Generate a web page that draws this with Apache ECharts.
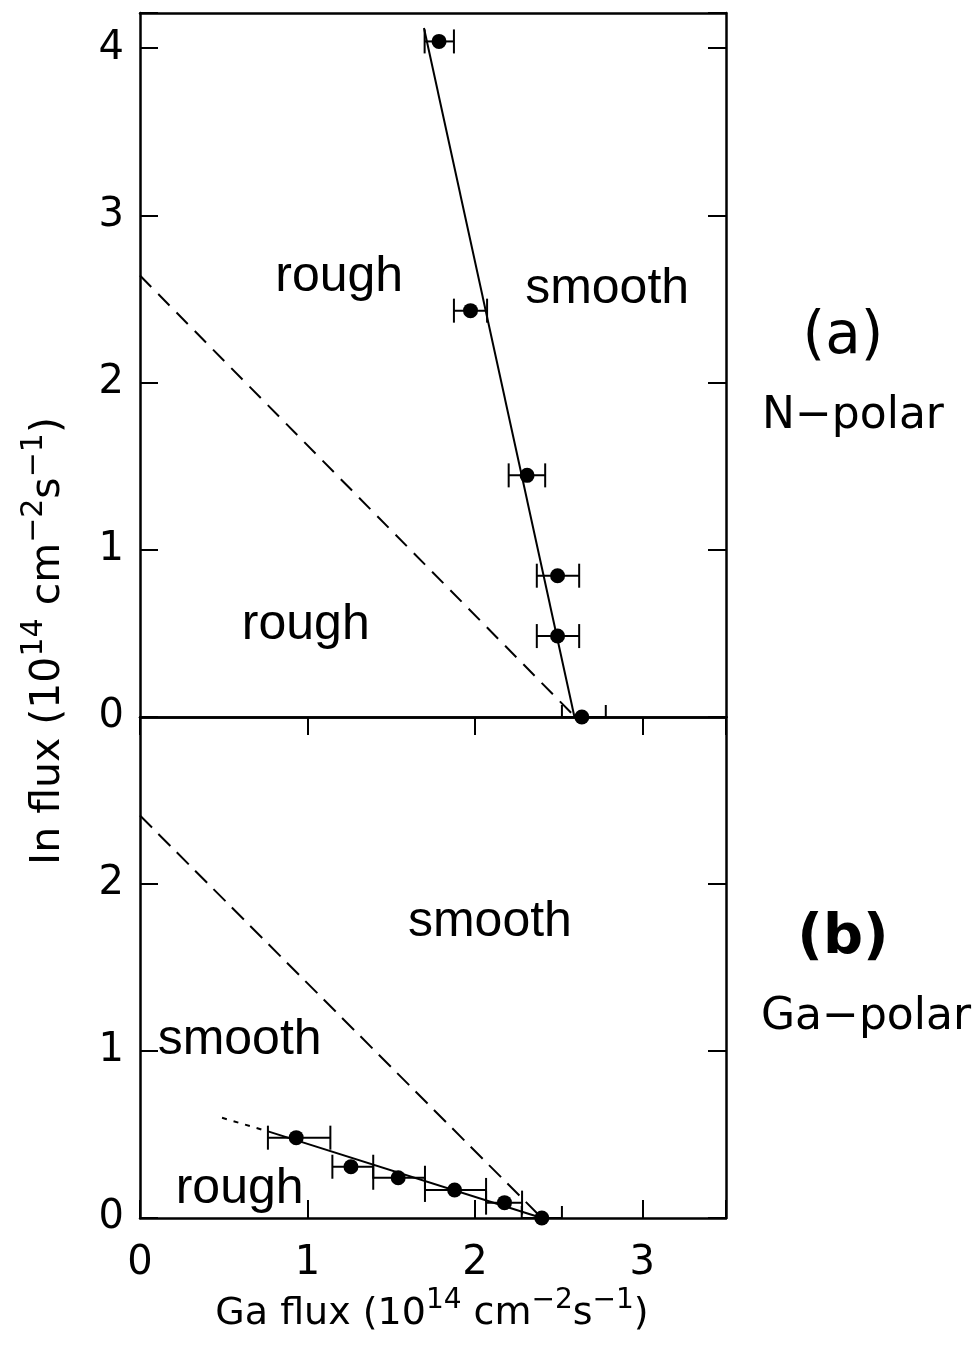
<!DOCTYPE html>
<html>
<head>
<meta charset="utf-8">
<script src="https://cdn.jsdelivr.net/npm/echarts@6/dist/echarts.min.js"></script>
<style>
html,body{margin:0;padding:0;background:#fff;}
#chart{width:979px;height:1357px;}
</style>
</head>
<body>
<div id="chart"></div>
<script>
// ---------- data (panel a: N-polar) ----------
const nPolarX = [1.786, 1.974, 2.312, 2.494, 2.494, 2.639];
const nPolarY = [4.04, 2.43, 1.445, 0.845, 0.484, 0.0];
const nPolarXErrLow = [1.70, 1.875, 2.202, 2.37, 2.37, 2.52];
const nPolarXErrHigh = [1.875, 2.073, 2.42, 2.623, 2.623, 2.782];
const nPolarFit = [[1.696, 4.12], [2.595, 0.0]];
const nPolarDashed = [[0, 2.64], [2.6, 0.0]];
const nPolarRegionText = ['rough', 'smooth', 'rough'];
const nPolarRegionX = [1.19, 2.79, 0.99];
const nPolarRegionY = [2.63, 2.56, 0.55];

// ---------- data (panel b: Ga-polar) ----------
const gaPolarX = [0.933, 1.26, 1.542, 1.879, 2.177, 2.40];
const gaPolarY = [0.481, 0.307, 0.241, 0.168, 0.092, 0.0];
const gaPolarXErrLow = [0.764, 1.149, 1.393, 1.702, 2.067, 2.28];
const gaPolarXErrHigh = [1.137, 1.393, 1.702, 2.067, 2.282, 2.52];
const gaPolarFit = [[0.76, 0.52], [2.40, 0.0]];
const gaPolarFitExt = [[0.49, 0.60], [0.76, 0.52]];
const gaPolarDashed = [[0, 2.41], [2.4, 0.0]];
const gaPolarRegionText = ['smooth', 'smooth', 'rough'];
const gaPolarRegionX = [2.09, 0.595, 0.595];
const gaPolarRegionY = [1.77, 1.065, 0.17];

// ---------- axes ----------
const xMin = 0, xMax = 3.5;
const yTopMax = 4.21, yBotMax = 3.0;
const panelLabels = ['(a)', 'N\u2212polar', '(b)', 'Ga\u2212polar'];
const xTitle = ['Ga flux (10', '14', ' cm', '\u22122', 's', '\u22121', ')'];
const yTitle = ['In flux (10', '14', ' cm', '\u22122', 's', '\u22121', ')'];

const tickFont = 'DejaVu Sans';
const black = '#000';

function richTitle(parts) {
  let s = '';
  parts.forEach((p, i) => { s += (i % 2 === 0 ? '{m|' : '{s|') + p + '}'; });
  return s;
}
function makeRich(main, sup, lh) {
  return {
    m: { fontSize: main, fontFamily: tickFont, fill: black, color: black, lineHeight: lh, verticalAlign: 'bottom' },
    s: { fontSize: sup, fontFamily: tickFont, fill: black, color: black, lineHeight: lh, verticalAlign: 'top' }
  };
}

function intLabel(v) {
  return Math.abs(v - Math.round(v)) < 1e-6 ? String(Math.round(v)) : '';
}

const axisLineStyle = { show: true, onZero: false, lineStyle: { color: black, width: 2.5 } };
const tickIn = { show: true, inside: true, length: 18, lineStyle: { color: black, width: 2 } };

function errData(lo, hi, y) { return y.map((v, i) => [lo[i], hi[i], v]); }

function errRender(params, api) {
  const y = api.value(2);
  const a = api.coord([api.value(0), y]);
  const b = api.coord([api.value(1), y]);
  const cs = params.coordSys;
  const h = 12;
  const top = cs.y, bot = cs.y + cs.height;
  const st = { stroke: black, lineWidth: 2 };
  const cap = (p) => ({ type: 'line', shape: { x1: p[0], y1: Math.max(top, p[1] - h), x2: p[0], y2: Math.min(bot, p[1] + h) }, style: st });
  return { type: 'group', children: [
    { type: 'line', shape: { x1: a[0], y1: a[1], x2: b[0], y2: b[1] }, style: st },
    cap(a), cap(b)
  ] };
}

function regionData(t, xs, ys) { return t.map((s, i) => ({ name: s, value: [xs[i], ys[i]] })); }

const regionLabel = { show: true, position: 'inside', formatter: '{b}', fontSize: 50, fontFamily: 'Liberation Sans', color: black, opacity: 1 };
const markerStyle = { color: black, opacity: 1 };

const option = {
  animation: false,
  backgroundColor: '#fff',
  grid: [
    { left: 140, top: 13, width: 586, height: 704 },
    { left: 140, top: 717, width: 586, height: 501 }
  ],
  xAxis: [
    { type: 'value', gridIndex: 0, min: xMin, max: xMax, interval: 1, position: 'bottom', axisLine: axisLineStyle, axisTick: { show: false }, axisLabel: { show: false }, splitLine: { show: false } },
    { type: 'value', gridIndex: 0, min: xMin, max: xMax, interval: 1, position: 'top', axisLine: axisLineStyle, axisTick: { show: false }, axisLabel: { show: false }, splitLine: { show: false } },
    { type: 'value', gridIndex: 1, min: xMin, max: xMax, interval: 1, position: 'bottom', axisLine: axisLineStyle, axisTick: tickIn,
      axisLabel: { show: true, margin: 26, fontSize: 40, fontFamily: tickFont, color: black, formatter: intLabel }, splitLine: { show: false } },
    { type: 'value', gridIndex: 1, min: xMin, max: xMax, interval: 1, position: 'top', axisLine: axisLineStyle, axisTick: tickIn, axisLabel: { show: false }, splitLine: { show: false } }
  ],
  yAxis: [
    { type: 'value', gridIndex: 0, min: 0, max: yTopMax, interval: 1, position: 'left', axisLine: axisLineStyle, axisTick: tickIn,
      axisLabel: { show: true, margin: 16, fontSize: 40, fontFamily: tickFont, color: black, formatter: intLabel }, splitLine: { show: false } },
    { type: 'value', gridIndex: 0, min: 0, max: yTopMax, interval: 1, position: 'right', axisLine: axisLineStyle, axisTick: tickIn, axisLabel: { show: false }, splitLine: { show: false } },
    { type: 'value', gridIndex: 1, min: 0, max: yBotMax, interval: 1, position: 'left', axisLine: axisLineStyle, axisTick: tickIn,
      axisLabel: { show: true, margin: 16, fontSize: 40, fontFamily: tickFont, color: black, showMaxLabel: false,
        formatter: v => (v >= yBotMax - 1e-6 ? '' : intLabel(v)) }, splitLine: { show: false } },
    { type: 'value', gridIndex: 1, min: 0, max: yBotMax, interval: 1, position: 'right', axisLine: axisLineStyle, axisTick: tickIn, axisLabel: { show: false }, splitLine: { show: false } }
  ],
  series: [
    // panel a
    { type: 'line', xAxisIndex: 0, yAxisIndex: 0, data: nPolarDashed, showSymbol: false, symbol: 'none', lineStyle: { color: black, width: 2, type: [16, 10] }, silent: true },
    { type: 'line', xAxisIndex: 0, yAxisIndex: 0, data: nPolarFit, showSymbol: false, symbol: 'none', lineStyle: { color: black, width: 2 }, silent: true },
    { type: 'custom', xAxisIndex: 0, yAxisIndex: 0, data: errData(nPolarXErrLow, nPolarXErrHigh, nPolarY), encode: { x: [0, 1], y: 2 }, renderItem: errRender, silent: true, z: 3 },
    { type: 'scatter', xAxisIndex: 0, yAxisIndex: 0, data: nPolarX.map((x, i) => [x, nPolarY[i]]), symbol: 'circle', symbolSize: 15, itemStyle: markerStyle, silent: true, z: 5 },
    { type: 'scatter', xAxisIndex: 0, yAxisIndex: 0, data: regionData(nPolarRegionText, nPolarRegionX, nPolarRegionY), symbolSize: 0, itemStyle: markerStyle, label: regionLabel, silent: true },
    // panel b
    { type: 'line', xAxisIndex: 2, yAxisIndex: 2, data: gaPolarDashed, showSymbol: false, symbol: 'none', lineStyle: { color: black, width: 2, type: [17, 9] }, silent: true },
    { type: 'line', xAxisIndex: 2, yAxisIndex: 2, data: gaPolarFitExt, showSymbol: false, symbol: 'none', lineStyle: { color: black, width: 2, type: [5, 7] }, silent: true },
    { type: 'line', xAxisIndex: 2, yAxisIndex: 2, data: gaPolarFit, showSymbol: false, symbol: 'none', lineStyle: { color: black, width: 2 }, silent: true },
    { type: 'custom', xAxisIndex: 2, yAxisIndex: 2, data: errData(gaPolarXErrLow, gaPolarXErrHigh, gaPolarY), encode: { x: [0, 1], y: 2 }, renderItem: errRender, silent: true, z: 3 },
    { type: 'scatter', xAxisIndex: 2, yAxisIndex: 2, data: gaPolarX.map((x, i) => [x, gaPolarY[i]]), symbol: 'circle', symbolSize: 15, itemStyle: markerStyle, silent: true, z: 5 },
    { type: 'scatter', xAxisIndex: 2, yAxisIndex: 2, data: regionData(gaPolarRegionText, gaPolarRegionX, gaPolarRegionY), symbolSize: 0, itemStyle: markerStyle, label: regionLabel, silent: true }
  ],
  graphic: [
    { type: 'text', x: 843, y: 338, style: { text: panelLabels[0], fontSize: 58, fontFamily: tickFont, fill: black, align: 'center', verticalAlign: 'middle' } },
    { type: 'text', x: 853, y: 417, style: { text: panelLabels[1], fontSize: 44, fontFamily: tickFont, fill: black, align: 'center', verticalAlign: 'middle' } },
    { type: 'text', x: 843, y: 938, style: { text: panelLabels[2], fontSize: 56, fontFamily: tickFont, fontWeight: 'bold', fill: black, align: 'center', verticalAlign: 'middle' } },
    { type: 'text', x: 866, y: 1018, style: { text: panelLabels[3], fontSize: 44, fontFamily: tickFont, fill: black, align: 'center', verticalAlign: 'middle' } },
    { type: 'text', x: 432, y: 1310, style: { text: richTitle(xTitle), rich: makeRich(38, 28, 46), align: 'center', verticalAlign: 'middle', fill: black } },
    { type: 'text', x: 44, y: 641, rotation: Math.PI / 2, style: { text: richTitle(yTitle), rich: makeRich(41, 30, 50), align: 'center', verticalAlign: 'middle', fill: black } }
  ]
};

const chart = echarts.init(document.getElementById('chart'), null, { renderer: 'canvas' });
chart.setOption(option);
</script>
</body>
</html>
